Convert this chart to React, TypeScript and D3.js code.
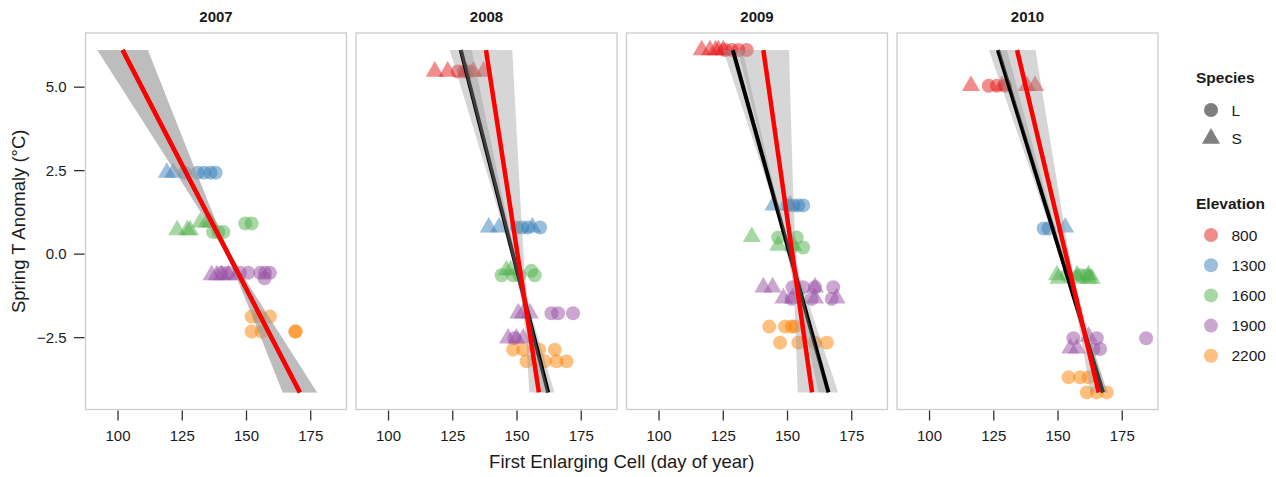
import React from "react";
import * as d3 from "d3";

// ---- data -------------------------------------------------------------
const years = [2007, 2008, 2009, 2010];
const elevations = [800, 1300, 1600, 1900, 2200];
const elevationColors = ["#E41A1C", "#377EB8", "#4DAF4A", "#984EA3", "#FF7F00"];
const speciesList = ["L", "S"];
const xTicks = [100, 125, 150, 175];
const yTicks = [-2.5, 0, 2.5, 5];

// [species, elevation, spring T anomaly, first enlarging cell days]
type Group = [string, number, number, number[]];

const obs2007: Group[] = [
  ["S", 1300, 2.44, [119, 121.5]],
  ["L", 1300, 2.44, [126, 131, 133.5, 136, 138]],
  ["S", 1600, 0.72, [123, 127, 128]],
  ["S", 1600, 0.95, [132, 134.5, 136]],
  ["L", 1600, 0.66, [137, 139, 141]],
  ["L", 1600, 0.92, [149.5, 152]],
  ["S", 1900, -0.63, [136.4, 138.4, 140.3, 142.9, 146.2]],
  ["L", 1900, -0.56, [140.3, 142.9, 147.5, 150.7, 155.3, 157.2, 159.1]],
  ["L", 1900, -0.72, [157]],
  ["L", 2200, -1.87, [152, 155, 159.1]],
  ["L", 2200, -2.32, [152, 155.9, 168.9, 169.2]],
];

const obs2008: Group[] = [
  ["S", 800, 5.47, [118, 123, 130, 133, 137]],
  ["L", 800, 5.47, [127, 129.5, 131.5]],
  ["S", 1300, 0.8, [139, 143, 156]],
  ["L", 1300, 0.8, [150, 152, 154.3, 159]],
  ["S", 1600, -0.48, [145.9, 147.5]],
  ["L", 1600, -0.5, [155.6]],
  ["L", 1600, -0.63, [144, 148.5, 151, 156.9]],
  ["S", 1900, -1.77, [150.5, 152.4, 155]],
  ["L", 1900, -1.77, [163.4, 166, 171.8]],
  ["S", 1900, -2.52, [146.5, 149.8, 152.4]],
  ["L", 1900, -2.52, [149]],
  ["L", 2200, -2.86, [148.5, 152.4, 158.6, 164.7]],
  ["L", 2200, -3.21, [153.7, 160.8, 165.4, 169.3]],
];

const obs2009: Group[] = [
  ["S", 800, 6.11, [116.6, 119.8, 122, 123.1, 125]],
  ["L", 800, 6.11, [125.7, 128.3, 130.9, 134.1]],
  ["S", 1300, 1.46, [144.5, 151]],
  ["L", 1300, 1.46, [150, 152.3, 154.2, 156.1]],
  ["S", 1600, 0.52, [136.1]],
  ["L", 1600, 0.5, [146.4, 153.6]],
  ["S", 1600, 0.26, [146.4, 152.3]],
  ["L", 1600, 0.2, [151.6, 156.1]],
  ["S", 1900, -0.99, [140.6, 144.2, 160.7]],
  ["L", 1900, -0.99, [152.0, 156.1, 160.7, 167.8]],
  ["S", 1900, -1.32, [148.4, 152.0, 160.7, 169.1]],
  ["L", 1900, -1.34, [151.6, 159.4, 167.2]],
  ["L", 2200, -2.17, [142.9, 149.0, 151.6, 152.9]],
  ["L", 2200, -2.65, [147.1, 154.2, 160.7, 165.3]],
];

const obs2010: Group[] = [
  ["S", 800, 5.04, [116.1, 128.2, 137.9, 141.1]],
  ["L", 800, 5.04, [123.0, 126.2, 129.5]],
  ["L", 1300, 0.77, [144.4, 146.3]],
  ["S", 1300, 0.8, [152.8]],
  ["S", 1600, -0.63, [149.6, 157.4, 161.9]],
  ["L", 1600, -0.63, [153.5, 158.6, 161.2]],
  ["S", 1600, -0.73, [150.2, 157.4, 161.9, 163.2]],
  ["S", 1900, -2.47, [161.9]],
  ["L", 1900, -2.52, [156.0, 165.1, 184.3]],
  ["S", 1900, -2.82, [154.8, 157.4]],
  ["L", 1900, -2.84, [163.8, 166.4]],
  ["L", 2200, -3.69, [154.1, 158.6, 161.9]],
  ["L", 2200, -4.14, [161.2, 165.1, 169.0]],
];

const observations = [obs2007, obs2008, obs2009, obs2010];

// Fitted day = a + b * anomaly; confidence half-width = sqrt(w0^2 + (k*(anomaly - y0))^2)
interface Fit { a: number; b: number; y0: number; w0: number; k: number }
const yearFits: Fit[] = [
  { a: 142.9, b: -6.73, y0: 0.0, w0: 1.0, k: 1.6 },
  { a: 148.4, b: -3.32, y0: -0.5, w0: 0.8, k: 0.64 },
  { a: 150.9, b: -3.63, y0: 1.0, w0: 0.8, k: 0.72 },
  { a: 151.0, b: -3.99, y0: -0.8, w0: 0.6, k: 0.5 },
];
const modelFits: Fit[] = [
  { a: 142.9, b: -6.73, y0: 0.0, w0: 1.0, k: 1.6 },
  { a: 150.2, b: -2.01, y0: -1.5, w0: 1.2, k: 1.34 },
  { a: 151.9, b: -1.85, y0: -0.5, w0: 1.3, k: 1.5 },
  { a: 153.0, b: -3.1, y0: -1.0, w0: 1.0, k: 1.0 },
];

// ---- layout ------------------------------------------------------------
const W = 1276;
const H = 477;
const panelTop = 33;
const panelBottom = 409.5;
const panelLeft0 = 85.5;
const panelW = 261;
const panelGap = 9.5;
const FONT = "'Liberation Sans', Arial, Helvetica, sans-serif";

const allAnoms = observations.flatMap((g) => g.map((r) => r[2]));
const yExtent = d3.extent(allAnoms) as [number, number];

const fitCenter = (f: Fit, y: number) => f.a + f.b * y;
const fitHalf = (f: Fit, y: number) => Math.sqrt(f.w0 * f.w0 + Math.pow(f.k * (y - f.y0), 2));
const ySamples = d3.range(0, 61).map((i) => yExtent[0] + ((yExtent[1] - yExtent[0]) * i) / 60);

const xValues: number[] = observations.flatMap((g) => g.flatMap((r) => r[3]));
[...yearFits, ...modelFits].forEach((f) =>
  ySamples.forEach((y) => {
    xValues.push(fitCenter(f, y) - fitHalf(f, y), fitCenter(f, y) + fitHalf(f, y));
  })
);
const xExtent = d3.extent(xValues) as [number, number];
const expand = (e: [number, number]): [number, number] => {
  const p = (e[1] - e[0]) * 0.05;
  return [e[0] - p, e[1] + p];
};

const x = d3.scaleLinear().domain(expand(xExtent)).range([0, panelW]);
const y = d3.scaleLinear().domain(expand(yExtent)).range([panelBottom, panelTop]);
const color = d3.scaleOrdinal<number, string>().domain(elevations).range(elevationColors);

const circlePath = d3.symbol().type(d3.symbolCircle).size(Math.PI * 7 * 7)() as string;
const trianglePath = d3.symbol().type(d3.symbolTriangle).size((18 * 18 * Math.sqrt(3)) / 4)() as string;
const shapeFor = (s: string) => (s === "L" ? circlePath : trianglePath);

const ribbonPath = (f: Fit) => {
  const area = d3
    .area<number>()
    .y((v) => y(v))
    .x0((v) => x(fitCenter(f, v) - fitHalf(f, v)))
    .x1((v) => x(fitCenter(f, v) + fitHalf(f, v)));
  return area(ySamples) as string;
};
const linePath = (f: Fit) =>
  d3
    .line<number>()
    .x((v) => x(fitCenter(f, v)))
    .y((v) => y(v))(yExtent) as string;

const fmtY = (v: number) => (v < 0 ? "\u2212" : "") + Math.abs(v).toFixed(1);

function Panel({ idx }: { idx: number }) {
  const left = panelLeft0 + idx * (panelW + panelGap);
  const groups = observations[idx];
  return (
    <g transform={`translate(${left},0)`}>
      <text
        x={panelW / 2}
        y={22}
        textAnchor="middle"
        fontFamily={FONT}
        fontWeight="bold"
        fontSize={15}
        fill="#1a1a1a"
      >
        {years[idx]}
      </text>
      <defs>
        <clipPath id={`clip-${idx}`}>
          <rect x={0} y={panelTop} width={panelW} height={panelBottom - panelTop} />
        </clipPath>
      </defs>
      <rect x={0} y={panelTop} width={panelW} height={panelBottom - panelTop} fill="white" />
      <g clipPath={`url(#clip-${idx})`}>
        {groups.flatMap((g, gi) =>
          g[3].map((day, di) => (
            <path
              key={`${gi}-${di}`}
              d={shapeFor(g[0])}
              transform={`translate(${x(day)},${y(g[2])})`}
              fill={color(g[1])}
              fillOpacity={0.5}
            />
          ))
        )}
        <path d={ribbonPath(yearFits[idx])} fill="#999999" fillOpacity={0.4} />
        <path d={linePath(yearFits[idx])} stroke="#000000" strokeWidth={4} fill="none" />
        <path d={ribbonPath(modelFits[idx])} fill="#999999" fillOpacity={0.4} />
        <path d={linePath(modelFits[idx])} stroke="#FF0000" strokeWidth={4.5} fill="none" />
      </g>
      <rect
        x={0}
        y={panelTop}
        width={panelW}
        height={panelBottom - panelTop}
        fill="none"
        stroke="#cccccc"
        strokeWidth={1.3}
      />
      {xTicks.map((t) => (
        <g key={t} transform={`translate(${x(t)},0)`}>
          <line y1={panelBottom + 1} y2={panelBottom + 11} stroke="#333" strokeWidth={1.3} />
          <text y={440.5} textAnchor="middle" fontFamily={FONT} fontSize={15} fill="#1a1a1a">
            {t}
          </text>
        </g>
      ))}
      {idx === 0 &&
        yTicks.map((t) => (
          <g key={t} transform={`translate(0,${y(t)})`}>
            <line x1={-11.5} x2={-1} stroke="#333" strokeWidth={1.3} />
            <text x={-19} dy="0.35em" textAnchor="end" fontFamily={FONT} fontSize={15} fill="#1a1a1a">
              {fmtY(t)}
            </text>
          </g>
        ))}
    </g>
  );
}

function Legend() {
  const lx = 1196;
  const sx = 1211;
  const tx = 1231.5;
  return (
    <g fontFamily={FONT} fill="#1a1a1a">
      <text x={lx} y={83} fontWeight="bold" fontSize={15.5}>
        Species
      </text>
      {speciesList.map((s, i) => (
        <g key={s} transform={`translate(0,${110 + i * 28.5})`}>
          <path d={shapeFor(s)} transform={`translate(${sx},0)`} fill="#000" fillOpacity={0.5} />
          <text x={tx} dy="0.36em" fontSize={15.5}>
            {s}
          </text>
        </g>
      ))}
      <text x={lx} y={208.5} fontWeight="bold" fontSize={15.5}>
        Elevation
      </text>
      {elevations.map((e, i) => (
        <g key={e} transform={`translate(0,${235 + i * 30.2})`}>
          <path d={circlePath} transform={`translate(${sx},0)`} fill={color(e)} fillOpacity={0.5} />
          <text x={tx} dy="0.36em" fontSize={15.5}>
            {e}
          </text>
        </g>
      ))}
    </g>
  );
}

export default function App() {
  const plotCenterX = (panelLeft0 + panelLeft0 + 4 * panelW + 3 * panelGap) / 2;
  return (
    <svg
      width={W}
      height={H}
      viewBox={`0 0 ${W} ${H}`}
      style={{ position: "absolute", left: 0, top: 0, background: "white" }}
    >
      <rect width={W} height={H} fill="white" />
      {years.map((_, i) => (
        <Panel key={i} idx={i} />
      ))}
      <text
        x={plotCenterX}
        y={467.5}
        textAnchor="middle"
        fontFamily={FONT}
        fontSize={18.5}
        fill="#1a1a1a"
      >
        First Enlarging Cell (day of year)
      </text>
      <text
        transform={`translate(25,${(panelTop + panelBottom) / 2}) rotate(-90)`}
        textAnchor="middle"
        fontFamily={FONT}
        fontSize={18.5}
        fill="#1a1a1a"
      >
        Spring T Anomaly (°C)
      </text>
      <Legend />
    </svg>
  );
}
